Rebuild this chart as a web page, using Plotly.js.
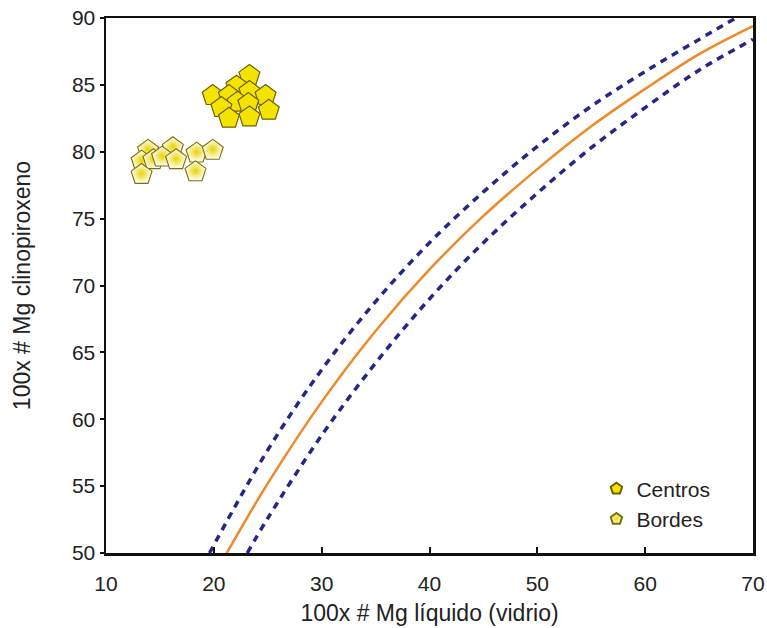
<!DOCTYPE html>
<html>
<head>
<meta charset="utf-8">
<script src="https://cdn.plot.ly/plotly-3.0.1.min.js"></script>
<style>html,body{margin:0;padding:0;background:#fff;}#chart{width:767px;height:628px;}</style>
</head>
<body>
<div id="chart"></div>
<script>
// Centros (clinopyroxene cores)
const centrosX = [23.3, 22.1, 19.9, 21.4, 23.3, 24.8, 22.2, 20.7, 23.2, 25.1, 21.4, 23.3];
const centrosY = [85.7, 84.9, 84.2, 84.2, 84.5, 84.2, 83.7, 83.3, 83.6, 83.1, 82.5, 82.6];
// Bordes (rims)
const bordesX = [13.9, 16.2, 18.4, 19.9, 13.3, 14.4, 15.2, 16.5, 13.3, 18.3];
const bordesY = [80.1, 80.3, 79.9, 80.1, 79.3, 79.4, 79.6, 79.4, 78.3, 78.5];
// Equilibrium curve (solid orange) and limits (dashed)
const eqX    = [21.2, 25, 30, 35, 40, 45, 50, 55, 60, 65, 70];
const eqY    = [50.0, 55.2, 61.3, 66.6, 71.2, 75.2, 78.7, 81.9, 84.7, 87.3, 89.4];
const upperX = [19.6, 25, 30, 35, 40, 45, 50, 55, 60, 65, 68.4, 70];
const upperY = [50.0, 57.7, 63.7, 68.8, 73.2, 77.0, 80.4, 83.4, 86.0, 88.4, 90.0, 90.8];
const lowerX = [23.1, 25, 30, 35, 40, 45, 50, 55, 60, 65, 70];
const lowerY = [50.0, 52.6, 58.8, 64.2, 69.0, 73.2, 76.9, 80.3, 83.3, 86.1, 88.4];
const xTicks = [10, 20, 30, 40, 50, 60, 70];
const yTicks = [50, 55, 60, 65, 70, 75, 80, 85, 90];

const dashStyle = {color: '#26268a', width: 3.5, dash: '7px,6px', shape: 'spline'};
const traces = [
  {x: upperX, y: upperY, mode: 'lines', line: dashStyle, showlegend: false, hoverinfo: 'skip'},
  {x: lowerX, y: lowerY, mode: 'lines', line: dashStyle, showlegend: false, hoverinfo: 'skip'},
  {x: eqX, y: eqY, mode: 'lines', line: {color: '#f0892a', width: 2.5, shape: 'spline'}, showlegend: false, hoverinfo: 'skip'},
  {x: centrosX, y: centrosY, mode: 'markers', name: 'Centros',
   marker: {symbol: 'pentagon', size: 22, color: '#f5e300', line: {color: '#6e6200', width: 1.2}}},
  {x: bordesX, y: bordesY, mode: 'markers', name: 'Bordes',
   marker: {symbol: 'pentagon', size: 22, color: '#ffffff', gradient: {type: 'radial', color: '#e8d400'},
            line: {color: '#7e7000', width: 1.1}}}
];

const fam = 'Liberation Sans, Arial, sans-serif';
const layout = {
  width: 767, height: 628,
  margin: {l: 106, r: 14, t: 18, b: 75},
  paper_bgcolor: '#fff', plot_bgcolor: '#fff',
  font: {family: fam, size: 21, color: '#222'},
  xaxis: {
    range: [10, 70], tickvals: xTicks, ticks: 'inside', ticklen: 6, tickwidth: 2, tickcolor: '#111',
    showline: true, linecolor: '#111', linewidth: 2.5, mirror: true, showgrid: false, zeroline: false,
    tickfont: {size: 21, color: '#222', family: fam}, ticklabelstandoff: 10,
    title: {text: '100x # Mg líquido (vidrio)', font: {size: 23, color: '#222', family: fam}, standoff: 11}
  },
  yaxis: {
    range: [50, 90], tickvals: yTicks, ticks: 'outside', ticklen: 4, tickwidth: 2, tickcolor: '#111',
    showline: true, linecolor: '#111', linewidth: 2.5, mirror: true, showgrid: false, zeroline: false,
    tickfont: {size: 21, color: '#222', family: fam},
    title: {text: '100x # Mg clinopiroxeno', font: {size: 23, color: '#222', family: fam}, standoff: 35}
  },
  legend: {x: 0.758, y: 0.158, xanchor: 'left', yanchor: 'top', bgcolor: 'rgba(0,0,0,0)',
           font: {size: 21, color: '#222', family: fam}, itemsizing: 'constant', tracegroupgap: 2},
  showlegend: true
};
Plotly.newPlot('chart', traces, layout, {staticPlot: true, displayModeBar: false});
</script>
</body>
</html>
